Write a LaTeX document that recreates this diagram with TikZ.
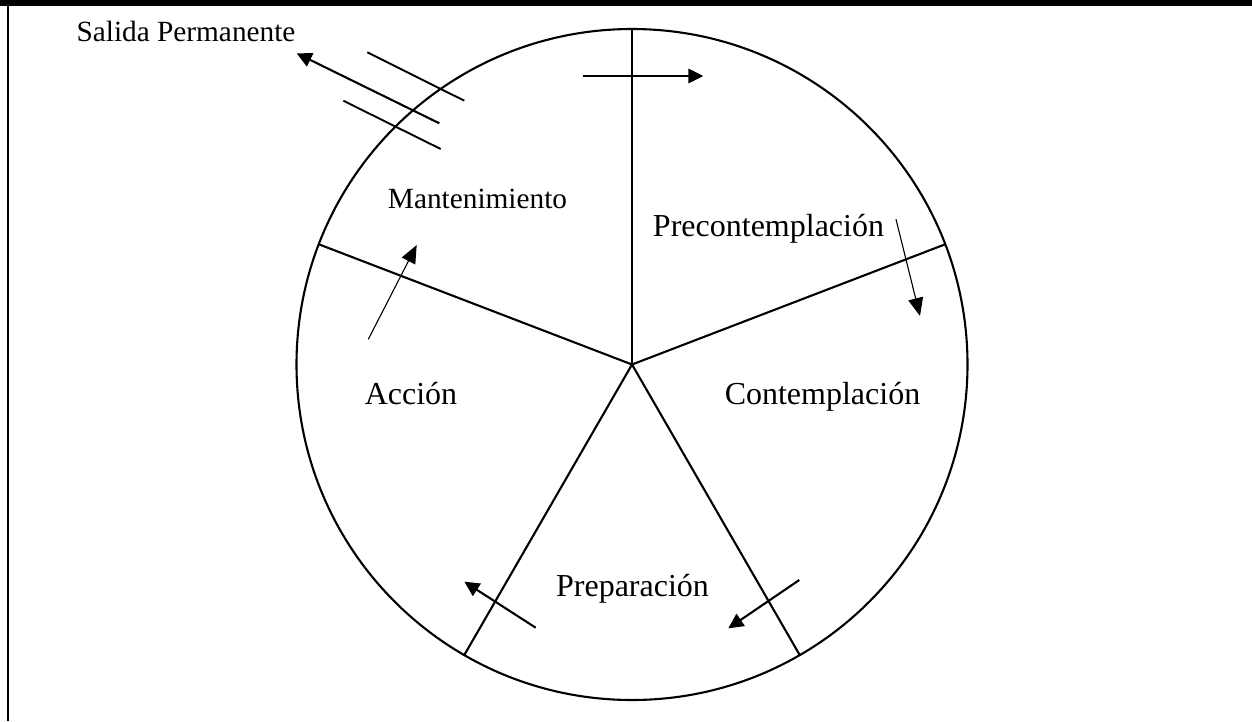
\documentclass[tikz,border=0pt]{standalone}
\usepackage{fontspec}
\setmainfont{Liberation Serif}
\usetikzlibrary{arrows.meta}
\begin{document}
\begin{tikzpicture}[x=1pt,y=-1pt,
  lbl/.style={anchor=base,inner sep=0pt,font=\fontsize{32}{38}\selectfont},
  lblsmall/.style={anchor=base,inner sep=0pt,font=\fontsize{29.3}{35}\selectfont},
  spoke/.style={line width=2.1pt},
  flow/.style={line width=2.1pt,-{Triangle[length=15pt,width=14.5pt]}},
  thinflow/.style={line width=1.1pt,-{Triangle[length=18pt,width=15pt]}},
  exitbar/.style={line width=1.9pt}]
\useasboundingbox (0,0) rectangle (1252,721);
% frame
\fill (0,0) rectangle (1252,5.7);
\draw[line width=2pt] (7.5,0) -- (7.5,721);
% wheel
\node[circle,draw,line width=2.1pt,minimum size=671pt,inner sep=0pt,outer sep=0pt] (wheel) at (632,364.5) {};
\coordinate (hub) at (632,364.5);
\draw[spoke] (hub) -- (wheel.90);
\draw[spoke] (hub) -- (wheel.21);
\draw[spoke] (hub) -- (wheel.-60);
\draw[spoke] (hub) -- (wheel.-120);
\draw[spoke] (hub) -- (wheel.159);
% labels
\node[lblsmall] (salida) at (186,41.7) {Salida Permanente};
\node[lblsmall] (mant) at (477.5,208.3) {Mantenimiento};
\node[lbl] (precon) at (768.5,236) {Precontemplación};
\node[lbl] (contem) at (822.5,404) {Contemplación};
\node[lbl] (accion) at (411,404.3) {Acción};
\node[lbl] (prep) at (632.5,596.7) {Preparación};
% arrows
\coordinate (s0) at (439.3,123.3); \coordinate (s1) at (296.7,53.3);
\draw[flow] (s0) -- (s1);
\coordinate (mA0) at (367.3,52.3); \coordinate (mA1) at (464.3,100.7);
\coordinate (mB0) at (343.3,100.7); \coordinate (mB1) at (440.7,149);
\draw[exitbar] (mA0) -- (mA1);
\draw[exitbar] (mB0) -- (mB1);
\coordinate (t0) at (582.7,76); \coordinate (t1) at (703.3,76);
\draw[flow] (t0) -- (t1);
\coordinate (p0) at (896,219.3); \coordinate (p1) at (920,316);
\draw[thinflow] (p0) -- (p1);
\coordinate (r0) at (799.3,580); \coordinate (r1) at (728.3,628.3);
\draw[flow] (r0) -- (r1);
\coordinate (l0) at (535.7,627.7); \coordinate (l1) at (464.3,581.7);
\draw[flow] (l0) -- (l1);
\coordinate (a0) at (368.3,339.3); \coordinate (a1) at (416.7,245);
\draw[thinflow] (a0) -- (a1);
\end{tikzpicture}
\end{document}
